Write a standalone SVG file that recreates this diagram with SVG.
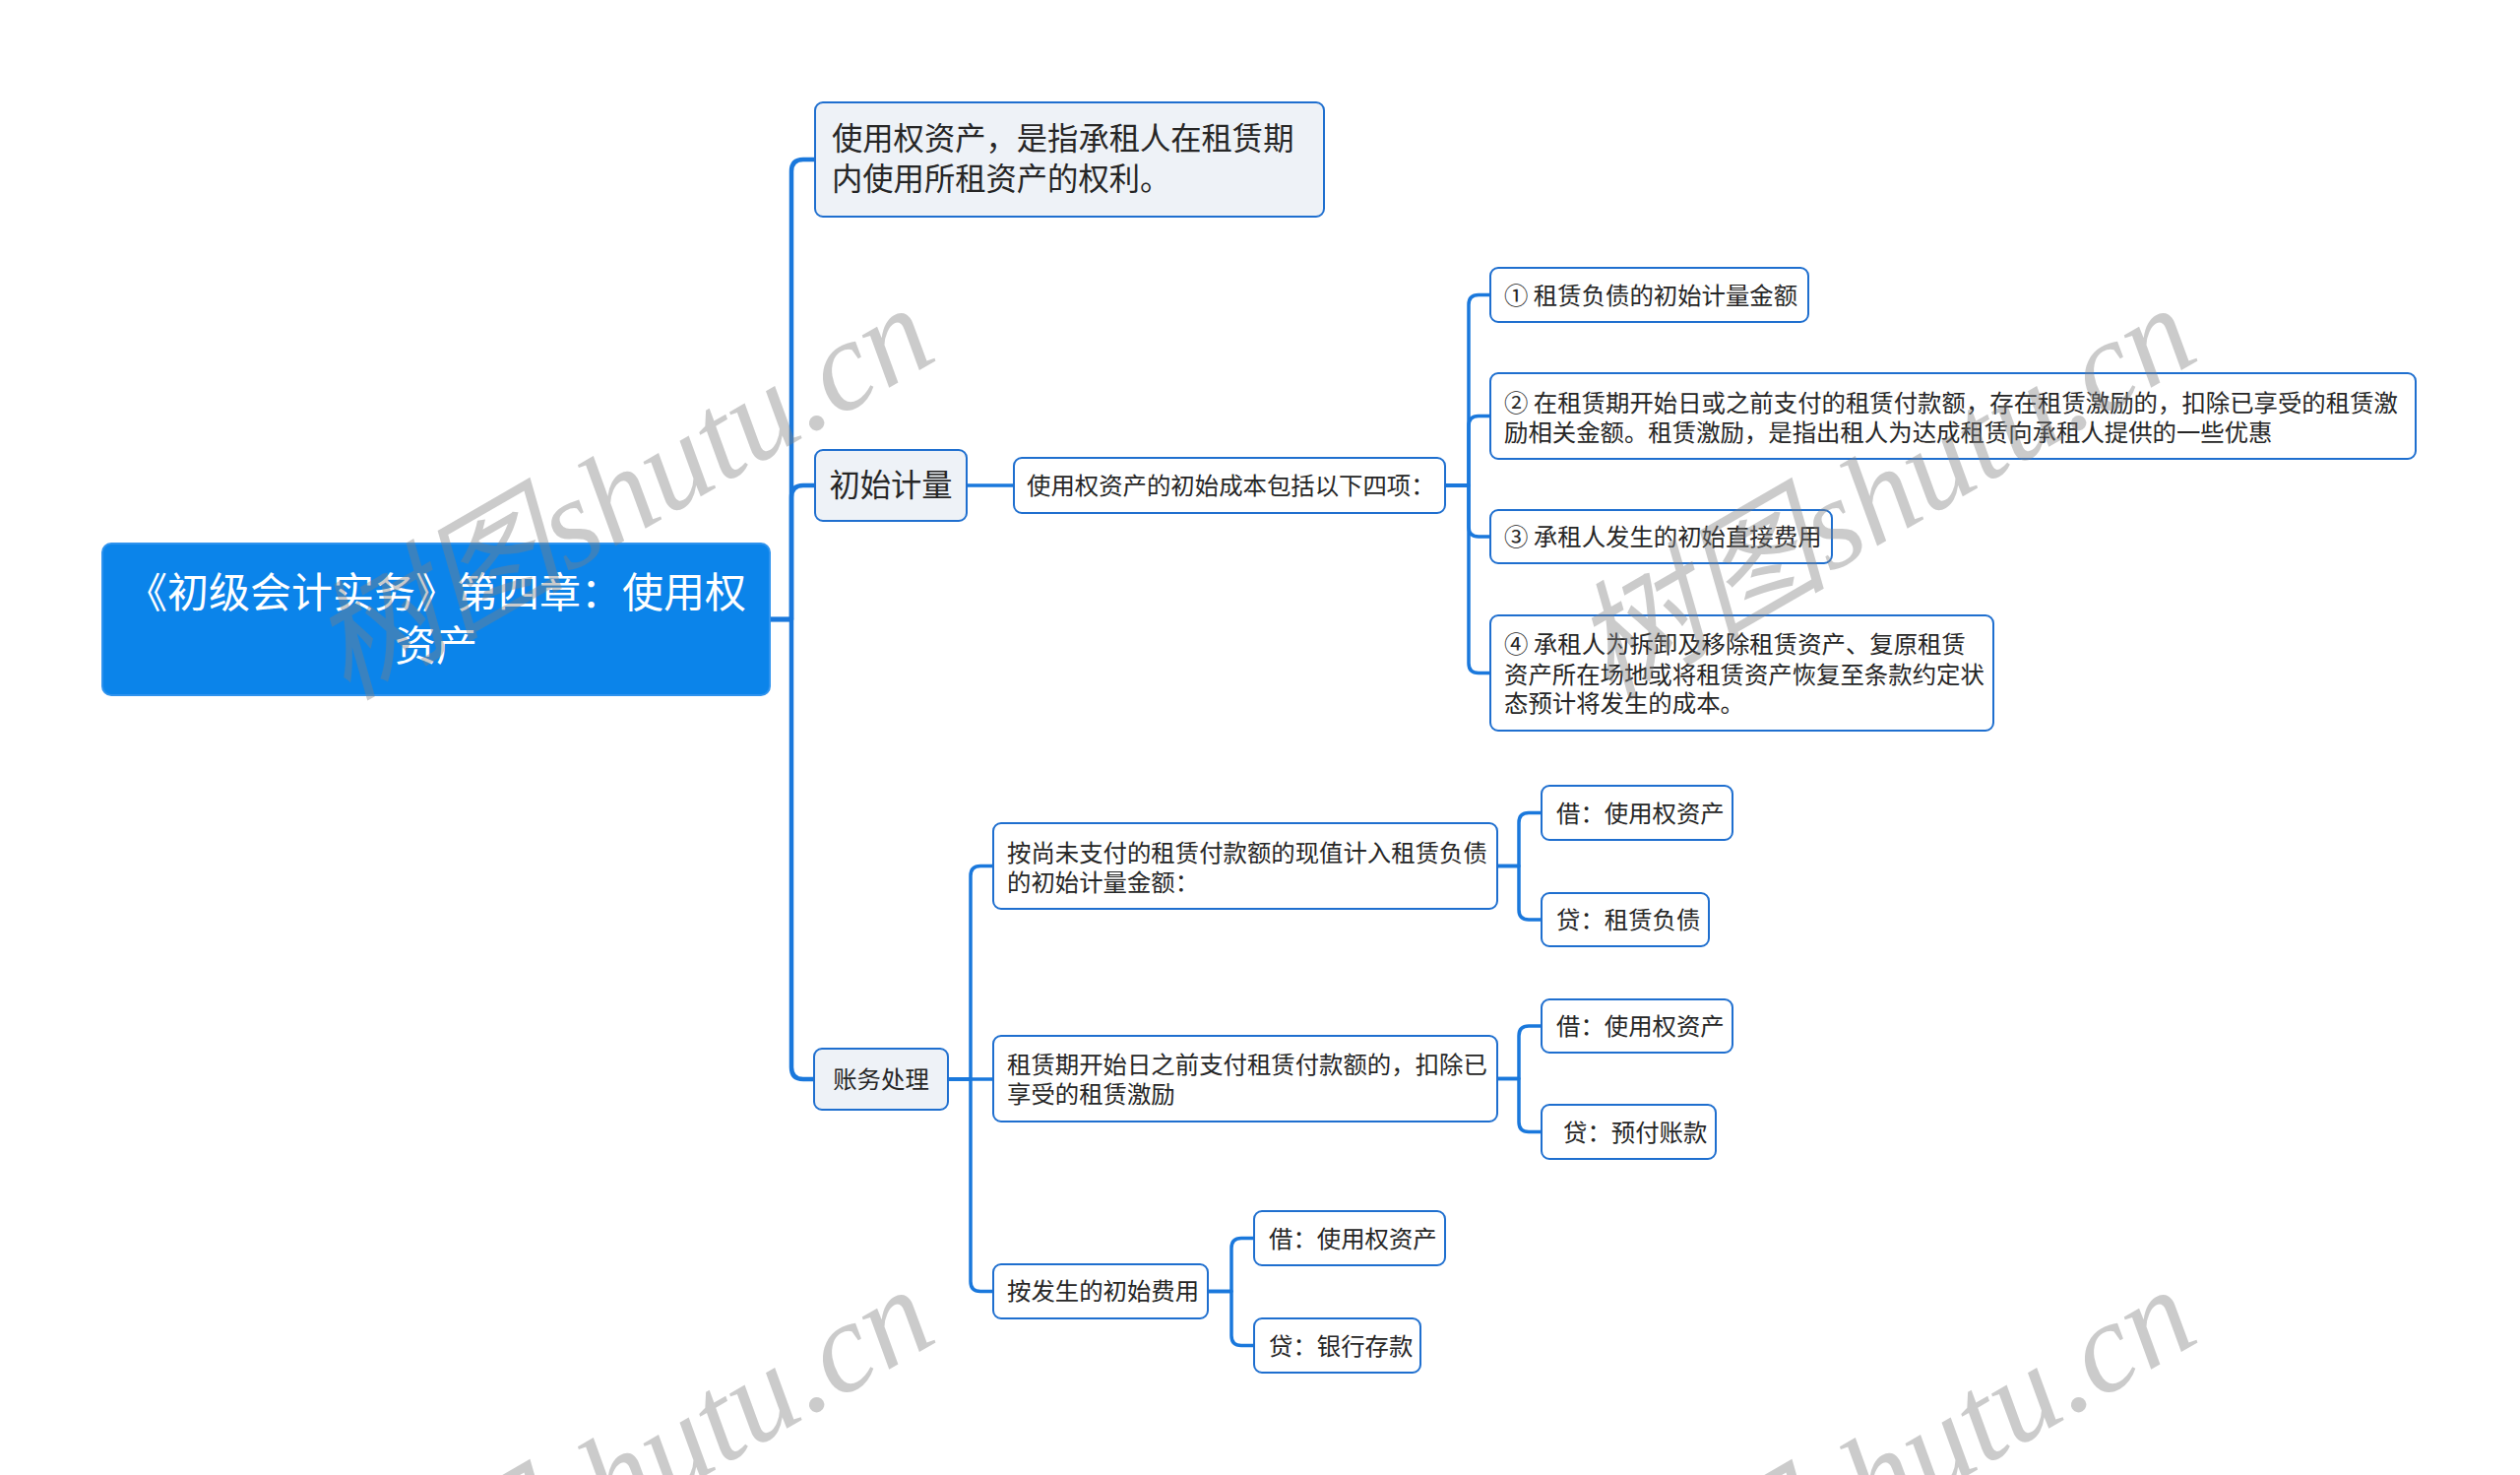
<svg xmlns="http://www.w3.org/2000/svg" width="2560" height="1498" viewBox="0 0 2560 1498">
<style>
text{font-family:"Noto Sans CJK SC","Noto Sans",sans-serif;fill:#262626}
.root{fill:#0b84ea;stroke:#2f93ee;stroke-width:2}
.rt{fill:#ffffff;font-size:42px}
.n1{fill:#eef2f7;stroke:#1f6fcf;stroke-width:2}
.n2{fill:#ffffff;stroke:#1f6fcf;stroke-width:2}
.t31{font-size:31.3px}
.t24{font-size:24.4px}
.c1{fill:none;stroke:#1a78dc;stroke-width:4.5;stroke-linejoin:round}
.c2{fill:none;stroke:#1a78dc;stroke-width:3.5;stroke-linejoin:round}
.wm{font-family:"Liberation Serif","Noto Sans CJK SC",serif;font-style:italic;font-size:130px;fill:#808080;opacity:0.4}
</style>
<rect width="2560" height="1498" fill="#ffffff"/>
<g id="connectors">
<path class="c1" d="M782,629 H804 V174 Q804,162 816,162 H828"/>
<path class="c1" d="M782,629 H804 V505 Q804,493 816,493 H828"/>
<path class="c1" d="M782,629 H804 V1084 Q804,1096 816,1096 H827"/>
<path class="c2" d="M982,493 H1030"/>
<path class="c2" d="M1468,493 H1492 V309.5 Q1492,299.5 1502,299.5 H1514"/>
<path class="c2" d="M1468,493 H1492 V432.5 Q1492,422.5 1502,422.5 H1514"/>
<path class="c2" d="M1468,493 H1492 V535 Q1492,545 1502,545 H1514"/>
<path class="c2" d="M1468,493 H1492 V673.5 Q1492,683.5 1502,683.5 H1514"/>
<path class="c2" d="M963,1096 H986 V889.5 Q986,879.5 996,879.5 H1009"/>
<path class="c2" d="M963,1096 H1009"/>
<path class="c2" d="M963,1096 H986 V1301.5 Q986,1311.5 996,1311.5 H1009"/>
<path class="c2" d="M1521,879.5 H1543 V835.5 Q1543,825.5 1553,825.5 H1566"/>
<path class="c2" d="M1521,879.5 H1543 V924 Q1543,934 1553,934 H1566"/>
<path class="c2" d="M1521,1095.5 H1543 V1052 Q1543,1042 1553,1042 H1566"/>
<path class="c2" d="M1521,1095.5 H1543 V1139.5 Q1543,1149.5 1553,1149.5 H1566"/>
<path class="c2" d="M1227,1311.5 H1251 V1267.5 Q1251,1257.5 1261,1257.5 H1274"/>
<path class="c2" d="M1227,1311.5 H1251 V1356.5 Q1251,1366.5 1261,1366.5 H1274"/>
</g>
<g id="root">
<rect class="root" x="104" y="552" width="678" height="154" rx="9"/>
<text class="rt" x="443" y="617" text-anchor="middle">《初级会计实务》第四章：使用权</text>
<text class="rt" x="443" y="671" text-anchor="middle">资产</text>
</g>
<g id="n-definition">
<rect class="n1" x="828" y="104" width="517" height="116" rx="8"/>
<text class="t31" x="845" y="152">使用权资产，是指承租人在租赁期</text>
<text class="t31" x="845" y="193">内使用所租资产的权利。</text>
</g>
<g id="n-initial">
<rect class="n1" x="828" y="457" width="154" height="72" rx="8"/>
<text class="t31" x="905" y="504" text-anchor="middle">初始计量</text>
</g>
<g id="n-cost">
<rect class="n2" x="1030" y="465" width="438" height="56" rx="8"/>
<text class="t24" x="1043" y="502">使用权资产的初始成本包括以下四项：</text>
</g>
<g id="n-item1">
<rect class="n2" x="1514" y="272" width="323" height="55" rx="8"/>
<text class="t24" x="1528" y="308.5">① 租赁负债的初始计量金额</text>
</g>
<g id="n-item2">
<rect class="n2" x="1514" y="379" width="940" height="87" rx="8"/>
<text class="t24" x="1528" y="417.5">② 在租赁期开始日或之前支付的租赁付款额，存在租赁激励的，扣除已享受的租赁激</text>
<text class="t24" x="1528" y="448">励相关金额。租赁激励，是指出租人为达成租赁向承租人提供的一些优惠</text>
</g>
<g id="n-item3">
<rect class="n2" x="1514" y="518" width="347" height="54" rx="8"/>
<text class="t24" x="1528" y="554">③ 承租人发生的初始直接费用</text>
</g>
<g id="n-item4">
<rect class="n2" x="1514" y="625" width="511" height="117" rx="8"/>
<text class="t24" x="1528" y="663">④ 承租人为拆卸及移除租赁资产、复原租赁</text>
<text class="t24" x="1528" y="693.5">资产所在场地或将租赁资产恢复至条款约定状</text>
<text class="t24" x="1528" y="723">态预计将发生的成本。</text>
</g>
<g id="n-accounting">
<rect class="n1" x="827" y="1065" width="136" height="62" rx="8"/>
<text class="t24" x="895" y="1105" text-anchor="middle">账务处理</text>
</g>
<g id="n-a">
<rect class="n2" x="1009" y="836" width="512" height="87" rx="8"/>
<text class="t24" x="1023" y="875">按尚未支付的租赁付款额的现值计入租赁负债</text>
<text class="t24" x="1023" y="905">的初始计量金额：</text>
</g>
<g id="n-b">
<rect class="n2" x="1009" y="1052" width="512" height="87" rx="8"/>
<text class="t24" x="1023" y="1090">租赁期开始日之前支付租赁付款额的，扣除已</text>
<text class="t24" x="1023" y="1120">享受的租赁激励</text>
</g>
<g id="n-c">
<rect class="n2" x="1009" y="1284" width="218" height="55" rx="8"/>
<text class="t24" x="1023" y="1320">按发生的初始费用</text>
</g>
<g id="n-a1">
<rect class="n2" x="1566" y="798" width="194" height="55" rx="8"/>
<text class="t24" x="1581" y="834.5">借：使用权资产</text>
</g>
<g id="n-a2">
<rect class="n2" x="1566" y="907" width="170" height="54" rx="8"/>
<text class="t24" x="1581" y="943">贷：租赁负债</text>
</g>
<g id="n-b1">
<rect class="n2" x="1566" y="1015" width="194" height="54" rx="8"/>
<text class="t24" x="1581" y="1051">借：使用权资产</text>
</g>
<g id="n-b2">
<rect class="n2" x="1566" y="1122" width="177" height="55" rx="8"/>
<text class="t24" x="1588" y="1158.5">贷：预付账款</text>
</g>
<g id="n-c1">
<rect class="n2" x="1274" y="1230" width="194" height="55" rx="8"/>
<text class="t24" x="1289" y="1266.5">借：使用权资产</text>
</g>
<g id="n-c2">
<rect class="n2" x="1274" y="1339" width="169" height="55" rx="8"/>
<text class="t24" x="1289" y="1375.5">贷：银行存款</text>
</g>
<g id="watermark">
<text class="wm" transform="translate(352,712) rotate(-30)">树图shutu.cn</text>
<text class="wm" transform="translate(1634,712) rotate(-30)">树图shutu.cn</text>
<text class="wm" transform="translate(352,1709) rotate(-30)">树图shutu.cn</text>
<text class="wm" transform="translate(1634,1709) rotate(-30)">树图shutu.cn</text>
</g>
</svg>
